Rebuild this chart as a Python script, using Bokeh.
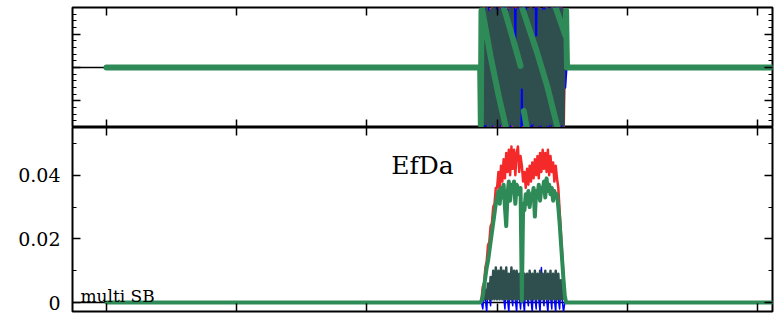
from bokeh.plotting import figure
from bokeh.models import Range1d, LinearAxis, FixedTicker, Label, Span
from bokeh.layouts import column
from bokeh.embed import file_html
from bokeh.resources import INLINE

FONT = "DejaVu Serif"
NAN = float("nan")

# ---------------- data ----------------
x_ticks = [0, 100, 200, 300, 400, 500]
phase_major = [-100, 0, 100]
phase_minor = [-180, -160, -140, -120, -80, -60, -40, -20, 20, 40, 60, 80, 120, 140, 160, 180]
amp_major = [0, 0.02, 0.04]
amp_minor = [0.01, 0.03, 0.05]
amp_labels = ["0", "0.02", "0.04"]

t_lead = [0, 287]
t_act = list(range(288, 353))      # sample index of the active burst
t_tail = [353, 512]

# bottom panel (amplitude)
bot_red = [0.001, 0.005, 0.006, 0.011, 0.013, 0.018, 0.019, 0.024, 0.025, 0.030, 0.031, 0.036, 0.036,
           0.041, 0.035, 0.043, 0.038, 0.045, 0.039, 0.047, 0.041, 0.048, 0.040, 0.049, 0.042, 0.048,
           0.040, 0.047, 0.049, 0.041, 0.046,
           0.043, 0.038,
           0.041, 0.036, 0.042, 0.037, 0.043, 0.038, 0.044, 0.039, 0.045, 0.040, 0.046, 0.039, 0.047,
           0.041, 0.048, 0.042, 0.047, 0.041, 0.048, 0.040, 0.046, 0.041, 0.044, 0.038, 0.043, 0.039,
           0.036, 0.029, 0.022, 0.015, 0.008, 0.002]
bot_blue = [0.000, -0.002, 0.003, 0.001, -0.003, 0.005, 0.002, -0.001, 0.007, 0.002, 0.006, 0.003, 0.008,
            0.002, 0.007, 0.003, 0.009, 0.002, -0.002, 0.006, 0.001, -0.003, 0.007, 0.002, -0.001, 0.008,
            0.001, -0.003, 0.006, 0.002, -0.002, 0.004, 0.001, -0.003, 0.007, 0.002, -0.001, 0.006, 0.001,
            -0.003, 0.007, 0.002, -0.002, 0.008, 0.001, -0.003, 0.011, 0.002, -0.001, 0.007, 0.001, -0.003,
            0.006, 0.002, -0.002, 0.008, 0.001, -0.003, 0.007, 0.001, -0.002, 0.005, 0.001, -0.003, 0.000]
bot_gray = [0.0005, 0.002, 0.001, 0.004, 0.001, 0.006, 0.001, 0.008, 0.001, 0.010, 0.001, 0.011, 0.001,
            0.010, 0.001, 0.011, 0.001, 0.010, 0.001, 0.011, 0.001, 0.009, 0.001, 0.011, 0.001, 0.010,
            0.001, 0.010, 0.001, 0.009, 0.001, 0.010, 0.001, 0.009, 0.001, 0.009, 0.001, 0.010, 0.001,
            0.009, 0.001, 0.010, 0.001, 0.009, 0.001, 0.010, 0.001, 0.009, 0.001, 0.010, 0.001, 0.009,
            0.001, 0.010, 0.001, 0.009, 0.001, 0.010, 0.001, 0.009, 0.001, 0.007, 0.001, 0.004, 0.001]
bot_green = [0.0005, 0.002, 0.005, 0.008, 0.011, 0.013, 0.016, 0.019, 0.022, 0.025, 0.028, 0.031, 0.033,
             0.035, 0.031, 0.036, 0.033, 0.037, 0.030, 0.024, 0.034, 0.038, 0.032, 0.037, 0.035, 0.038,
             0.031, 0.037, 0.036, 0.034, 0.036,
             0.0005, 0.031,
             0.029, 0.034, 0.031, 0.035, 0.030, 0.034, 0.033, 0.036, 0.027, 0.035, 0.033, 0.037, 0.032,
             0.036, 0.035, 0.038, 0.033, 0.039, 0.035, 0.037, 0.034, 0.036, 0.032, 0.035, 0.033, 0.034,
             0.030, 0.025, 0.019, 0.013, 0.007, 0.002]

# top panel (phase, degrees)
top_red = [120, -175, 178, -170, 176, -179, 172, -174, 179, -177, 170, -178, 175, -172, 180, -176, 169,
           -179, 174, -171, 178, -175, 172, -180, 177, -170, 179, -174, 176, -178, 171, -177, 180, -173,
           175, -179, 170, -176, 178, -172, 174, -180, 177, -169, 179, -175, 172, -178, 176, -171, 180,
           -177, 173, -174, 178, -170, 175, -179, 171, -176, 179, -173, 177, -178, 90]
top_blue = [-165, 170, -178, 175, -172, 179, -176, 168, -179, 174, -170, 178, -175, 172, -180, 176, -168,
            179, -173, 177, -178, 171, -176, 180, -169, 175, -179, 173, -174, 178, -177, 170, -172, 179,
            -175, 176, -180, 169, -178, 174, -171, 177, -176, 180, -173, 172, -179, 175, -170, 178, -177,
            173, -175, 179, -172, 170, -178, 176, -174, 180, -169, 177, -176, 172, -60]
top_gray = [172, -178, 176, -170, 179, -175, 168, -179, 177, -172, 180, -176, 171, -178, 175, -169, 178,
            -177, 174, -180, 169, -174, 179, -171, 176, -178, 40, -179, 173, -175, 178, -60, 176, -177,
            170, -179, 177, -173, 179, -168, 175, -178, 90, -176, 178, -172, 174, -179, 171, -177, 179,
            -174, 176, -170, 178, -179, 172, -176, 177, -173, 179, -171, 175, -178, 170]
top_green_t = [0, 287, 287.5, 288, 288.5, 294.9, 301.2, 306.5, NAN,
               305.1, 311.5, 318.0, NAN,
               320.5, 322.6, NAN,
               319.2, 330.7, 338.4, 346.1, NAN,
               344.9, 348.5, 352.5, 353.0, 353.4, 353.7, 512]
top_green = [0, 0, -172, 170, 175, 35, -85, -175, NAN,
             180, 95, 5, NAN,
             -130, -178, NAN,
             180, 45, -55, -175, NAN,
             180, 140, 95, 170, 60, 0, 0]

RED, BLUE, GRAY, GREEN = "#f42a2a", "#0000ff", "#2f4f4f", "#2e8b57"

X0, X1 = -26.1, 511.5


def full(vals):
    return t_lead + t_act + t_tail, [0, 0] + vals + [0, 0]


def make_fig(h, y0, y1, mt, mb):
    p = figure(width=780, height=h, x_range=Range1d(X0, X1), y_range=Range1d(y0, y1),
               output_backend="svg", toolbar_location=None,
               x_axis_location=None, y_axis_location=None,
               min_border_left=72, min_border_right=8, min_border_top=mt, min_border_bottom=mb)
    p.grid.visible = False
    p.outline_line_color = "black"
    p.outline_line_width = 2
    p.background_fill_color = "white"
    p.border_fill_color = "white"
    return p


def add_axis(p, side, ticks, minor, labels=None):
    ax = LinearAxis(ticker=FixedTicker(ticks=ticks, minor_ticks=minor))
    ax.axis_line_color = None
    ax.major_tick_in = 8
    ax.major_tick_out = 0
    ax.minor_tick_in = 4
    ax.minor_tick_out = 0
    ax.major_tick_line_color = "black"
    ax.major_tick_line_width = 1.5
    ax.minor_tick_line_color = "black"
    ax.minor_tick_line_width = 1.2
    if labels is None:
        ax.major_label_text_font_size = "0px"
        ax.major_label_standoff = 0
        ax.major_label_overrides = {t: "" for t in ticks}
    else:
        ax.major_label_overrides = dict(zip(ticks, labels))
        ax.major_label_text_font = FONT
        ax.major_label_text_font_size = "19px"
        ax.major_label_text_color = "black"
        ax.major_label_standoff = 12
    p.add_layout(ax, side)


# ---------------- top panel ----------------
p1 = make_fig(127, -180, 180, 7, 0)
for side in ("below", "above"):
    add_axis(p1, side, x_ticks, [])
for side in ("left", "right"):
    add_axis(p1, side, phase_major, phase_minor)
p1.add_layout(Span(location=0, dimension="width", line_color="black", line_width=1.5, level="underlay"))
for vals, col, lw in ((top_red, RED, 3), (top_blue, BLUE, 3), (top_gray, GRAY, 2.5)):
    xs, ys = full(vals)
    p1.line(xs, ys, line_color=col, line_width=lw, line_join="round", line_cap="round")
p1.line(top_green_t, top_green, line_color=GREEN, line_width=6, line_join="round", line_cap="round")

# ---------------- bottom panel ----------------
p2 = make_fig(186, -0.00282, 0.05498, 0, 2)
for side in ("below", "above"):
    add_axis(p2, side, x_ticks, [])
add_axis(p2, "left", amp_major, amp_minor, amp_labels)
add_axis(p2, "right", amp_major, amp_minor)
p2.add_layout(Span(location=0, dimension="width", line_color="black", line_width=1.5, level="underlay"))
for vals, col, lw in ((bot_red, RED, 2.5), (bot_blue, BLUE, 1.5), (bot_gray, GRAY, 2.5), (bot_green, GREEN, 4)):
    xs, ys = full(vals)
    p2.line(xs, ys, line_color=col, line_width=lw, line_join="round", line_cap="round")

p2.add_layout(Label(x=(X0 + X1) / 2, y=0.0429, text="EfDa", text_font=FONT, text_font_size="25px",
                    text_align="center", text_baseline="alphabetic", text_color="black"))
p2.add_layout(Label(x=-20, y=0.0022, text="multi SB", text_font=FONT, text_font_size="17px",
                    text_align="left", text_baseline="alphabetic", text_color="black"))

layout = column(p1, p2, spacing=0)
open("out.html", "w").write(file_html(layout, INLINE))
